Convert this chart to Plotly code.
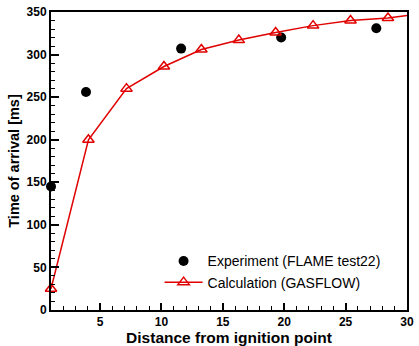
import plotly.graph_objects as go

exp_x = [1.0, 3.85, 11.6, 19.75, 27.5]
exp_y = [145, 256, 307, 320, 331]

calc_x = [1.0, 4.05, 7.15, 10.2, 13.25, 16.3, 19.3, 22.35, 25.4, 28.45, 30.1]
calc_y = [25, 200, 260, 286, 306, 317, 326, 334, 340, 343, 346]

RED = "rgb(225,0,0)"
FONT = "Liberation Sans, Arial, sans-serif"

fig = go.Figure()
fig.add_trace(go.Scatter(
    x=exp_x, y=exp_y, mode="markers", name="Experiment (FLAME test22)",
    marker=dict(symbol="circle", size=10, color="black"),
    cliponaxis=False,
))
fig.add_trace(go.Scatter(
    x=calc_x, y=calc_y, mode="lines+markers", name="Calculation (GASFLOW)",
    line=dict(color=RED, width=1.5),
    marker=dict(symbol="triangle-up-open", size=10, color=RED, line=dict(width=1.5, color=RED)),
    cliponaxis=False,
))

axis_common = dict(
    showgrid=False, zeroline=False, showline=True, linecolor="black", linewidth=2,
    mirror=True, ticks="inside", tickcolor="black", tickwidth=1.5,
    tickfont=dict(family=FONT, size=12, color="black", weight="bold"),
)
fig.update_xaxes(
    range=[1, 30], tickvals=[5, 10, 15, 20, 25, 30], ticklen=7,
    minor=dict(ticks="inside", dtick=1, tick0=0, ticklen=4, tickcolor="black", tickwidth=1),
    title=dict(text="<b>Distance from ignition point</b>", font=dict(family=FONT, size=15.5, color="black"), standoff=1),
    **axis_common,
)
fig.update_yaxes(
    range=[0, 350], tickvals=[0, 50, 100, 150, 200, 250, 300, 350], ticklen=8,
    minor=dict(ticks="inside", dtick=10, tick0=0, ticklen=4, tickcolor="black", tickwidth=1),
    title=dict(text="<b>Time of arrival [ms]</b>", font=dict(family=FONT, size=14.5, color="black"), standoff=3),
    **axis_common,
)
fig.update_layout(
    width=419, height=346,
    margin=dict(l=51, r=5, t=11, b=29),
    plot_bgcolor="white", paper_bgcolor="white",
    showlegend=True,
    legend=dict(
        x=0.305, y=0.217, xanchor="left", yanchor="top",
        bgcolor="rgba(0,0,0,0)", font=dict(family=FONT, size=14, color="black"),
        itemwidth=38, tracegroupgap=0,
    ),
)
fig.write_html("out.html")
